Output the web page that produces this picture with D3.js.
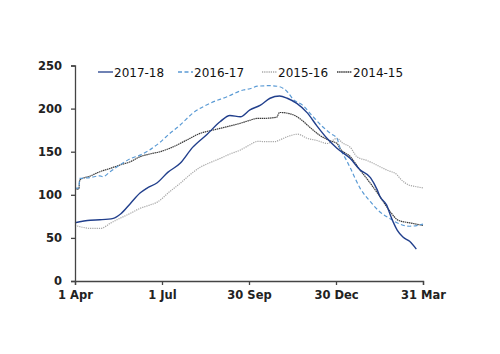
<!DOCTYPE html>
<html>
<head>
<meta charset="utf-8">
<script src="https://cdn.jsdelivr.net/npm/d3@7"></script>
<style>
  body { margin:0; background:#fff; }
  .axis text { font-family:"DejaVu Sans", sans-serif; font-weight:bold; font-size:11.5px; fill:#222; }
  .axis path, .axis line { stroke:#444; stroke-width:1.3; }
  .legend text { font-family:"DejaVu Sans", sans-serif; font-size:12px; fill:#111; }
</style>
</head>
<body>
<svg></svg>
<script>

// days counted from 1 Apr, value
var s2017 = [[0,67.6],[16,70.5],[26,71],[40,72.7],[48,78],[58,90],[68,102],[75,107.5],[86,114],[97,126],
  [110,136.5],[123,155],[138,170],[152,185],[162,192],[173,190.5],[183,198.5],[194,204],[204,212],[214,214.6],
  [222,212],[232,206],[243,195],[253,180],[264,165],[274,154],[288,142],[298,129],[309,120],[316,106],
  [319,98],[326,88],[330,76],[333,68],[337,59],[343,51],[350,46],[357,37]];

var s2016 = [[0,107.5],[4,108],[5,119],[16,120],[26,122],[29,121],[37,127],[47,134.6],[58,142],[68,146],
  [78,152],[89,161],[99,171],[110,181],[123,194.5],[141,206],[159,213.8],[176,221.6],[183,223],[191,226],
  [204,226.6],[214,225.4],[222,219.6],[228,211],[238,204],[249,190.6],[259,179],[267,171.3],[274,165.5],
  [277,155],[284,140],[288,131],[298,108],[309,92],[319,80],[330,72],[340,66],[350,63.5],[364,66]];

var s2015 = [[0,64.5],[8,62.3],[16,61],[27,61],[37,67],[47,72.7],[58,78.5],[68,84.3],[78,88],[86,91.5],
  [99,103.6],[110,113.3],[120,123],[131,132],[141,137.2],[152,142.3],[162,147.3],[173,152],[183,158],[191,162],
  [201,161.6],[209,161.6],[214,163.6],[222,167.4],[233,170.3],[243,165.5],[253,163],[264,159.5],[274,165.5],
  [280,160],[288,155],[295,144],[305,140],[312,136.5],[319,132.6],[326,128.8],[337,123],[340,119],[350,111],
  [354,110],[364,108]];

var s2014 = [[0,106.4],[4,107],[5,117.2],[16,121.8],[26,126.8],[37,130.7],[47,134.6],[58,138.4],[68,144.2],
  [78,147.3],[89,150],[99,153.9],[103,155.8],[117,163.6],[131,171.3],[144,175],[159,179],[173,183],[183,186.5],
  [191,188.7],[197,188.7],[211,190],[214,195.5],[225,194],[235,188.5],[246,178],[256,169],[267,162.5],
  [274,159.7],[277,154],[288,144.2],[298,129],[309,113.3],[319,97.8],[330,80],[338,70.5],[350,67.5],[364,64.5]];

var seriesNames = ["2017-18","2016-17","2015-16","2014-15"];
var seriesData = [s2017, s2016, s2015, s2014];
var seriesColors = ["#213f8c","#5b9bd5","#a6a6a6","#3a3a3a"];
var seriesDash = [null,"4,2.5","1.2,1","1.5,0.6"];

var xTicks = [0,91,182,273,364];
var xTickLabels = ["1 Apr","1 Jul","30 Sep","30 Dec","31 Mar"];
var yTicks = [0,50,100,150,200,250];

var screen = {width:500, height:354};
var margins = {top:65.5, left:75, bottom:73, right:77};
var width = screen.width - margins.left - margins.right;
var height = screen.height - margins.top - margins.bottom;

var xScale = d3.scaleLinear().domain([0,364]).range([0,width]);
var yScale = d3.scaleLinear().domain([0,250]).range([height,0]);

var svg = d3.select("svg").attr("width",screen.width).attr("height",screen.height);

var plot = svg.append("g")
  .attr("transform","translate("+margins.left+","+margins.top+")");

var line = d3.line()
  .x(function(d){return xScale(d[0]);})
  .y(function(d){return yScale(d[1]);})
  .curve(d3.curveMonotoneX);

// draw oldest first so 2017-18 is on top
for (var i = seriesData.length-1; i >= 0; i--) {
  plot.append("path")
    .datum(seriesData[i])
    .attr("d",line)
    .attr("fill","none")
    .attr("stroke",seriesColors[i])
    .attr("stroke-width", i==0 ? 1.4 : 1.2)
    .attr("stroke-dasharray",seriesDash[i]);
}

var xAxis = d3.axisBottom(xScale)
  .tickValues(xTicks)
  .tickFormat(function(d,i){return xTickLabels[i];})
  .tickSizeOuter(0)
  .tickSize(4)
  .tickPadding(6);

plot.append("g")
  .attr("class","axis")
  .attr("transform","translate(0,"+height+")")
  .call(xAxis);

var yAxis = d3.axisLeft(yScale)
  .tickValues(yTicks)
  .tickSizeOuter(0)
  .tickSize(4)
  .tickPadding(9);

plot.append("g")
  .attr("class","axis")
  .call(yAxis);

// legend
var legendX = [98,178,262,337];
var legend = svg.append("g").attr("class","legend");
seriesNames.forEach(function(name,i){
  var g = legend.append("g").attr("transform","translate("+legendX[i]+",72)");
  g.append("line")
    .attr("x1",0).attr("x2",15).attr("y1",0).attr("y2",0)
    .attr("stroke",seriesColors[i])
    .attr("stroke-width",1.3)
    .attr("stroke-dasharray",seriesDash[i]);
  g.append("text")
    .attr("x",16).attr("y",4.5)
    .text(name);
});

</script>
</body>
</html>
